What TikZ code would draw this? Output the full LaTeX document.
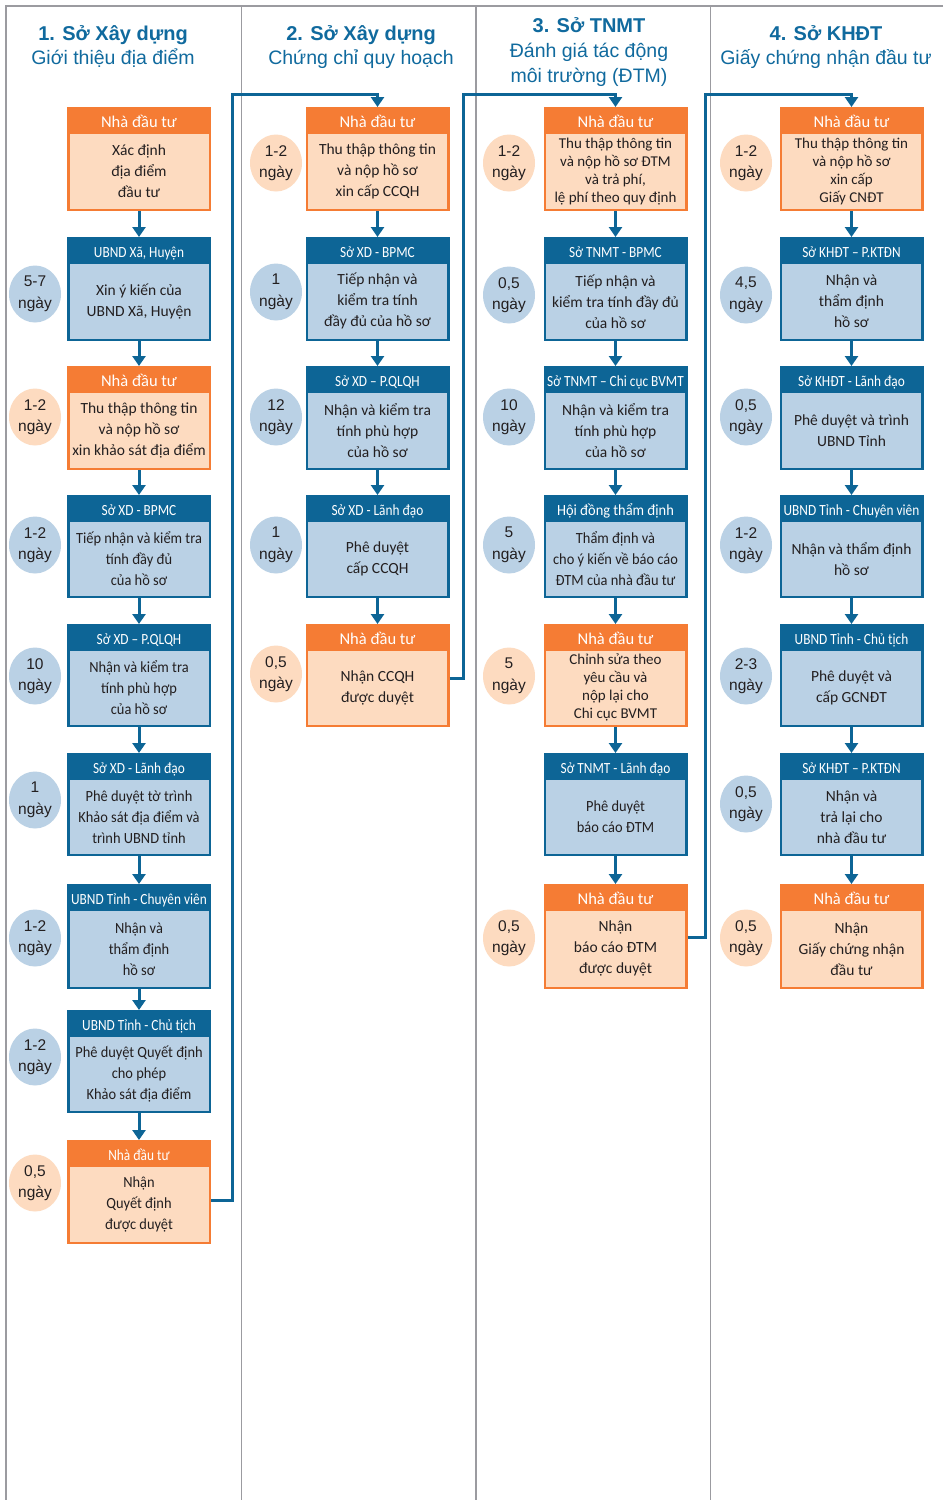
\documentclass[tikz,border=0pt]{standalone}
\usepackage{fontspec}
\setmainfont{Carlito}
\newfontfamily\titlefont{Liberation Sans}
\newfontfamily\condfont[FakeStretch=0.86]{Carlito}
\newfontfamily\semicondfont[FakeStretch=0.93]{Carlito}
\usetikzlibrary{arrows.meta,shapes.geometric,calc}

\definecolor{hdrblue}{RGB}{13,101,150}
\definecolor{bodyblue}{RGB}{186,209,229}
\definecolor{hdrorange}{RGB}{245,124,52}
\definecolor{bodypeach}{RGB}{253,219,192}
\definecolor{titleblue}{RGB}{16,106,158}
\definecolor{inkdark}{RGB}{35,31,32}
\definecolor{framegray}{RGB}{155,155,160}

% font switch for the wider orange headers
\newcommand\hdwide{\normalfont\fontsize{16.5}{18}\selectfont}

\tikzset{
  boxshape/.style={rectangle, minimum width=144pt, inner sep=0pt, outer sep=0pt},
  blu/.style={boxshape, fill=hdrblue},
  ora/.style={boxshape, fill=hdrorange},
  blubody/.style={fill=bodyblue},
  orabody/.style={fill=bodypeach},
  hdrtext/.style={text=white, anchor=base, inner sep=0pt,
    font=\condfont\fontsize{15.5}{18}\selectfont},
  bodytext/.style={text=inkdark, align=center, inner sep=0pt,
    font=\fontsize{15.5}{21}\selectfont},
  bodycond/.style={font=\semicondfont\fontsize{15.5}{21}\selectfont},
  bodyfour/.style={font=\fontsize{15}{18}\selectfont},
  dur/.style={ellipse, minimum width=52pt, minimum height=57pt, inner sep=0pt,
    align=center, text=inkdark, font=\titlefont\fontsize{15.5}{21.5}\selectfont},
  durblu/.style={dur, fill=bodyblue},
  durora/.style={dur, fill=bodypeach},
  flow/.style={draw=hdrblue, line width=3pt, -{Triangle[width=13pt,length=10pt]}},
  link/.style={draw=hdrblue, line width=3pt, -{Triangle[width=13pt,length=10pt]}},
  frame/.style={draw=framegray, line width=1.8pt},
  ttlbold/.style={anchor=base, inner sep=0pt, text=titleblue,
    font=\titlefont\bfseries\fontsize{20}{24}\selectfont},
  ttlreg/.style={anchor=base, inner sep=0pt, text=titleblue,
    font=\titlefont\fontsize{19.5}{24}\selectfont},
}

% [#1 body style] #2 name, #3 centre x, #4 top y, #5 bottom y, #6 kind (blu/ora), #7 header, #8 body
\newcommand\flowstep[8][]{%
  \node[#6, minimum height={(#5-#4)*1pt}] (#2) at (#3,{(#4+#5)/2}) {};
  \fill[#6body] ($(#2.north west)+(2.5pt,-27pt)$) rectangle ($(#2.south east)+(-2.5pt,2.5pt)$);
  \node[hdrtext] (#2-head) at ($(#2.north)+(0,-20pt)$) {#7};
  \node[bodytext,#1] (#2-text) at ($(#2.center)+(0,-12.25pt)$) {#8};
}

\begin{document}
\begin{tikzpicture}[x=1pt,y=-1pt]
\useasboundingbox (0,0) rectangle (943,1500);
\fill[white] (0,0) rectangle (943,1500);

% frame and column dividers
\draw[frame] (943,6) -- (6,6) -- (6,1500);
\foreach \x in {241.5,476,710.5} \draw[frame] (\x,6) -- (\x,1500);

% column titles
\node[ttlbold] (t1a) at (113,40) {1. Sở Xây dựng};
\node[ttlreg]  (t1b) at (113,64) {Giới thiệu địa điểm};
\node[ttlbold] (t2a) at (361,40) {2. Sở Xây dựng};
\node[ttlreg]  (t2b) at (361,64) {Chứng chỉ quy hoạch};
\node[ttlbold] (t3a) at (589,32) {3. Sở TNMT};
\node[ttlreg]  (t3b) at (589,57) {Đánh giá tác động};
\node[ttlreg]  (t3c) at (589,82) {môi trường (ĐTM)};
\node[ttlbold] (t4a) at (826,40) {4. Sở KHĐT};
\node[ttlreg]  (t4b) at (826,64) {Giấy chứng nhận đầu tư};

% column 1
\flowstep{c1r1}{139}{107}{211}{ora}{\hdwide Nhà đầu tư}{Xác định\\địa điểm\\đầu tư}
\flowstep{c1r2}{139}{237}{341}{blu}{UBND Xã, Huyện}{Xin ý kiến của\\UBND Xã, Huyện}
\flowstep{c1r3}{139}{366}{470}{ora}{\hdwide Nhà đầu tư}{Thu thập thông tin\\và nộp hồ sơ\\xin khảo sát địa điểm}
\flowstep[bodycond]{c1r4}{139}{495}{598}{blu}{Sở XD - BPMC}{Tiếp nhận và kiểm tra\\tính đầy đủ\\của hồ sơ}
\flowstep[bodycond]{c1r5}{139}{624}{727}{blu}{Sở XD – P.QLQH}{Nhận và kiểm tra\\tính phù hợp\\của hồ sơ}
\flowstep[bodycond]{c1r6}{139}{753}{856}{blu}{Sở XD - Lãnh đạo}{Phê duyệt tờ trình\\Khảo sát địa điểm và\\trình UBND tỉnh}
\flowstep[bodycond]{c1r7}{139}{884}{989}{blu}{UBND Tỉnh - Chuyên viên}{Nhận và\\thẩm định\\hồ sơ}
\flowstep[bodycond]{c1r8}{139}{1010}{1113}{blu}{UBND Tỉnh - Chủ tịch}{Phê duyệt Quyết định\\cho phép\\Khảo sát địa điểm}
\flowstep[bodycond]{c1r9}{139}{1140}{1244}{ora}{Nhà đầu tư}{Nhận\\Quyết định\\được duyệt}

% column 2
\flowstep{c2r1}{377.5}{107}{211}{ora}{\hdwide Nhà đầu tư}{Thu thập thông tin\\và nộp hồ sơ\\xin cấp CCQH}
\flowstep{c2r2}{377.5}{237}{341}{blu}{Sở XD - BPMC}{Tiếp nhận và\\kiểm tra tính\\đầy đủ của hồ sơ}
\flowstep{c2r3}{377.5}{366}{470}{blu}{Sở XD – P.QLQH}{Nhận và kiểm tra\\tính phù hợp\\của hồ sơ}
\flowstep{c2r4}{377.5}{495}{598}{blu}{Sở XD - Lãnh đạo}{Phê duyệt\\cấp CCQH}
\flowstep{c2r5}{377.5}{624}{727}{ora}{\hdwide Nhà đầu tư}{Nhận CCQH\\được duyệt}

% column 3
\flowstep[bodyfour]{c3r1}{615.5}{107}{211}{ora}{\hdwide Nhà đầu tư}{Thu thập thông tin\\và nộp hồ sơ ĐTM\\và trả phí,\\lệ phí theo quy định}
\flowstep{c3r2}{615.5}{237}{341}{blu}{Sở TNMT - BPMC}{Tiếp nhận và\\kiểm tra tính đầy đủ\\của hồ sơ}
\flowstep{c3r3}{615.5}{366}{470}{blu}{Sở TNMT – Chi cục BVMT}{Nhận và kiểm tra\\tính phù hợp\\của hồ sơ}
\flowstep[bodycond]{c3r4}{615.5}{495}{598}{blu}{\semicondfont Hội đồng thẩm định}{Thẩm định và\\cho ý kiến về báo cáo\\ĐTM của nhà đầu tư}
\flowstep[bodyfour]{c3r5}{615.5}{624}{727}{ora}{\hdwide Nhà đầu tư}{Chỉnh sửa theo\\yêu cầu và\\nộp lại cho\\Chi cục BVMT}
\flowstep[bodycond]{c3r6}{615.5}{753}{856}{blu}{Sở TNMT - Lãnh đạo}{Phê duyệt\\báo cáo ĐTM}
\flowstep{c3r7}{615.5}{884}{989}{ora}{\hdwide Nhà đầu tư}{Nhận\\báo cáo ĐTM\\được duyệt}

% column 4
\flowstep[bodyfour]{c4r1}{851.5}{107}{211}{ora}{\hdwide Nhà đầu tư}{Thu thập thông tin\\và nộp hồ sơ\\xin cấp\\Giấy CNĐT}
\flowstep{c4r2}{851.5}{237}{341}{blu}{Sở KHĐT – P.KTĐN}{Nhận và\\thẩm định\\hồ sơ}
\flowstep{c4r3}{851.5}{366}{470}{blu}{Sở KHĐT - Lãnh đạo}{Phê duyệt và trình\\UBND Tỉnh}
\flowstep{c4r4}{851.5}{495}{598}{blu}{UBND Tỉnh - Chuyên viên}{Nhận và thẩm định\\hồ sơ}
\flowstep{c4r5}{851.5}{624}{727}{blu}{UBND Tỉnh - Chủ tịch}{Phê duyệt và\\cấp GCNĐT}
\flowstep{c4r6}{851.5}{753}{856}{blu}{Sở KHĐT – P.KTĐN}{Nhận và\\trả lại cho\\nhà đầu tư}
\flowstep{c4r7}{851.5}{884}{989}{ora}{\hdwide Nhà đầu tư}{Nhận\\Giấy chứng nhận\\đầu tư}

% durations
\node[durblu] (c1d2) at (35,294)  {5-7\\ngày};
\node[durora] (c1d3) at (35,417)  {1-2\\ngày};
\node[durblu] (c1d4) at (35,545)  {1-2\\ngày};
\node[durblu] (c1d5) at (35,676)  {10\\ngày};
\node[durblu] (c1d6) at (35,800)  {1\\ngày};
\node[durblu] (c1d7) at (35,938)  {1-2\\ngày};
\node[durblu] (c1d8) at (35,1057) {1-2\\ngày};
\node[durora] (c1d9) at (35,1183) {0,5\\ngày};

\node[durora] (c2d1) at (276,163) {1-2\\ngày};
\node[durblu] (c2d2) at (276,292) {1\\ngày};
\node[durblu] (c2d3) at (276,417) {12\\ngày};
\node[durblu] (c2d4) at (276,545) {1\\ngày};
\node[durora] (c2d5) at (276,674) {0,5\\ngày};

\node[durora] (c3d1) at (509,163) {1-2\\ngày};
\node[durblu] (c3d2) at (509,295) {0,5\\ngày};
\node[durblu] (c3d3) at (509,417) {10\\ngày};
\node[durblu] (c3d4) at (509,545) {5\\ngày};
\node[durora] (c3d5) at (509,676) {5\\ngày};
\node[durora] (c3d7) at (509,938) {0,5\\ngày};

\node[durora] (c4d1) at (746,163) {1-2\\ngày};
\node[durblu] (c4d2) at (746,295) {4,5\\ngày};
\node[durblu] (c4d3) at (746,417) {0,5\\ngày};
\node[durblu] (c4d4) at (746,545) {1-2\\ngày};
\node[durblu] (c4d5) at (746,676) {2-3\\ngày};
\node[durblu] (c4d6) at (746,804) {0,5\\ngày};
\node[durora] (c4d7) at (746,938) {0,5\\ngày};

% arrows within each column
\foreach \a/\b in {c1r1/c1r2,c1r2/c1r3,c1r3/c1r4,c1r4/c1r5,c1r5/c1r6,c1r6/c1r7,c1r7/c1r8,c1r8/c1r9,
                   c2r1/c2r2,c2r2/c2r3,c2r3/c2r4,c2r4/c2r5,
                   c3r1/c3r2,c3r2/c3r3,c3r3/c3r4,c3r4/c3r5,c3r5/c3r6,c3r6/c3r7,
                   c4r1/c4r2,c4r2/c4r3,c4r3/c4r4,c4r4/c4r5,c4r5/c4r6,c4r6/c4r7}
  \draw[flow] (\a.south) -- (\b.north);

% hand-over links between the columns
\coordinate (k1) at (232,94);
\coordinate (k2) at (463,94);
\coordinate (k3) at (705.5,94);
\draw[link] ([yshift=-8pt]c1r9.east) -| (k1) -| (c2r1.north);
\draw[link] ([yshift=-2.5pt]c2r5.east) -| (k2) -| (c3r1.north);
\draw[link] ([yshift=-0.5pt]c3r7.east) -| (k3) -| (c4r1.north);
\end{tikzpicture}
\end{document}
